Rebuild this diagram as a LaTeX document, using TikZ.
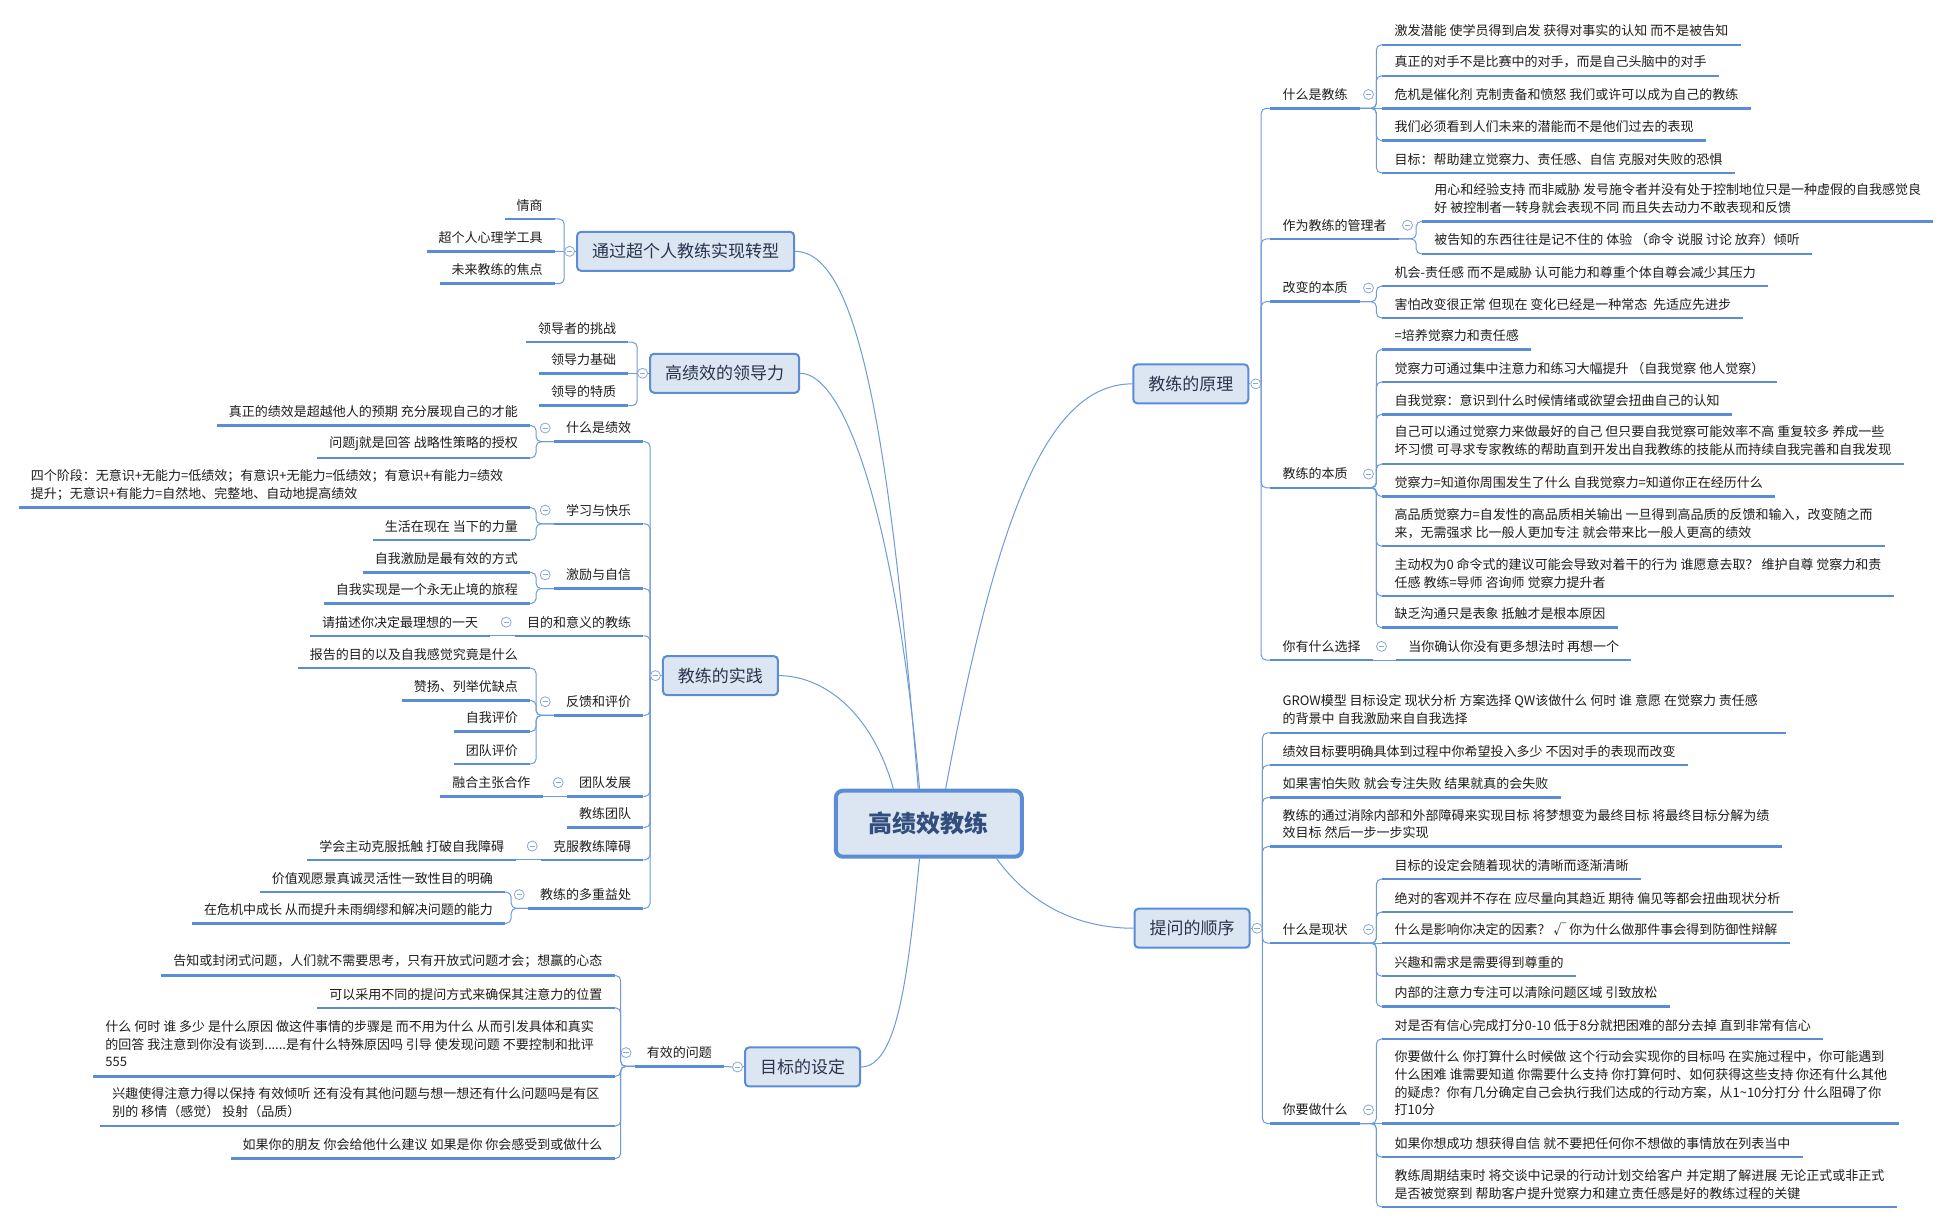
\documentclass[tikz,border=0pt]{standalone}
\usepackage{fontspec}
\newfontfamily\cjk{Noto Sans CJK SC}
\pgfdeclarelayer{bg}
\pgfsetlayers{bg,main}
\definecolor{ulc}{RGB}{91,140,214}
\definecolor{bord}{RGB}{91,140,214}
\definecolor{boxfill}{RGB}{220,230,242}
\definecolor{connc}{RGB}{110,155,218}
\definecolor{markc}{RGB}{140,168,214}
\definecolor{txt}{RGB}{30,30,30}
\definecolor{toptxt}{RGB}{40,52,78}
\definecolor{ctxt}{RGB}{50,78,125}
\tikzset{
  base/.style={font=\cjk\fontsize{13}{17.8}\selectfont, text=txt, inner xsep=12pt, inner ysep=7.5pt},
  rl/.style={base, anchor=south west, align=left},
  ll/.style={base, anchor=south east, align=right},
  lla/.style={base, anchor=south east, align=left},
  wr/.style={base, anchor=south west, inner ysep=3.9pt},
  wl/.style={base, anchor=south east, inner ysep=3.9pt},
  topic/.style={draw=bord, fill=boxfill, line width=2pt, rounded corners=4pt, inner xsep=15pt, inner ysep=0pt, minimum height=39pt, font=\cjk\fontsize{17}{20}\selectfont, text=toptxt},
  topicR/.style={topic, anchor=west},
  topicL/.style={topic, anchor=east},
  central/.style={draw=bord, fill=boxfill, line width=4pt, rounded corners=7pt, minimum width=186pt, minimum height=66pt, font=\cjk\bfseries\fontsize{24}{28}\selectfont, text=ctxt},
  ul/.style={line width=2.5pt, draw=ulc},
  conn/.style={line width=1pt, draw=connc, rounded corners=5pt},
  mconn/.style={line width=1pt, draw=connc},
  mk/.style={circle, draw=markc, fill=white, line width=0.8pt, minimum size=10pt, inner sep=0pt,
    path picture={\draw[markc, line width=0.9pt] ([xshift=-2.6pt]path picture bounding box.center) -- ([xshift=2.6pt]path picture bounding box.center);}},
}
\newcommand\wbox[2]{\makebox[#1][l]{\begin{tabular}{@{}l@{}}#2\end{tabular}}}
\newcommand\brR[2]{\draw[conn] (#1.south east) -| ([xshift=-6pt]#2.south west) -- (#2.south west);}
\newcommand\brL[2]{\draw[conn] (#1.south west) -| ([xshift=6pt]#2.south east) -- (#2.south east);}
\newcommand\stR[2]{\draw[conn] (#1.south east) -- (#2.south west);}
\newcommand\stL[2]{\draw[conn] (#1.south west) -- (#2.south east);}
\begin{document}
\begin{tikzpicture}[x=1.2443pt, y=-1.2443pt]
\useasboundingbox (0,0) rectangle (1568,984);
\begin{pgfonlayer}{bg}
\fill[white] (0,0) rectangle (1568,984);
\end{pgfonlayer}

% central
\node[central] (C) at (746.5,662) {高绩效教练};

% level 1
\node[topicR] (R1) at (910,308.5) {教练的原理};
\node[topicR] (R2) at (911,746) {提问的顺序};
\node[topicL] (L1) at (639,202) {通过超个人教练实现转型};
\node[topicL] (L2) at (643,300) {高绩效的领导力};
\node[topicL] (L3) at (626,543) {教练的实践};
\node[topicL] (L4) at (692,857.5) {目标的设定};

% right: 教练的原理
\node[rl] (A1) at (1021,87) {什么是教练};
\node[rl] (A2) at (1021,192) {作为教练的管理者};
\node[rl] (A3) at (1021,242.5) {改变的本质};
\node[rl] (A4) at (1021,392) {教练的本质};
\node[rl] (A5) at (1021,530.5) {你有什么选择};

\node[rl] (a11) at (1111,36) {激发潜能 使学员得到启发 获得对事实的认知 而不是被告知};
\node[rl] (a12) at (1111,61) {真正的对手不是比赛中的对手，而是自己头脑中的对手};
\node[rl] (a13) at (1111,87) {危机是催化剂 克制责备和愤怒 我们或许可以成为自己的教练};
\node[rl] (a14) at (1111,113) {我们必须看到人们未来的潜能而不是他们过去的表现};
\node[rl] (a15) at (1111,139) {目标：帮助建立觉察力、责任感、自信 克服对失败的恐惧};
\node[rl] (a21) at (1143,178) {用心和经验支持 而非威胁 发号施令者并没有处于控制地位只是一种虚假的自我感觉良\\好 被控制者一转身就会表现不同 而且失去动力不敢表现和反馈};
\node[rl] (a22) at (1143,204) {被告知的东西往往是记不住的 体验 （命令 说服 讨论 放弃）倾听};
\node[rl] (a31) at (1111,230) {机会-责任感 而不是威胁 认可能力和尊重个体自尊会减少其压力};
\node[rl] (a32) at (1111,255.5) {害怕改变很正常 但现在 变化已经是一种常态\ \ 先适应先进步};
\node[rl] (a41) at (1111,281) {=培养觉察力和责任感};
\node[rl] (a42) at (1111,307) {觉察力可通过集中注意力和练习大幅提升 （自我觉察 他人觉察）};
\node[rl] (a43) at (1111,333) {自我觉察：意识到什么时候情绪或欲望会扭曲自己的认知};
\node[wr] (a44) at (1111,373) {\wbox{497pt}{自己可以通过觉察力来做最好的自己 但只要自我觉察可能效率不高 重复较多 养成一些\\坏习惯 可寻求专家教练的帮助直到开发出自我教练的技能从而持续自我完善和自我发现}};
\node[rl] (a45) at (1111,399) {觉察力=知道你周围发生了什么 自我觉察力=知道你正在经历什么};
\node[rl] (a46) at (1111,439) {高品质觉察力=自发性的高品质相关输出 一旦得到高品质的反馈和输入，改变随之而\\来，无需强求 比一般人更加专注 就会带来比一般人更高的绩效};
\node[rl] (a47) at (1111,479) {主动权为0 命令式的建议可能会导致对着干的行为 谁愿意去取？ 维护自尊 觉察力和责\\任感 教练=导师 咨询师 觉察力提升者};
\node[rl] (a48) at (1111,504.5) {缺乏沟通只是表象 抵触才是根本原因};
\node[rl] (a51) at (1122,530.5) {当你确认你没有更多想法时 再想一个};

% right: 提问的顺序
\node[wr] (B1) at (1021,589) {\wbox{491pt}{GROW模型 目标设定 现状分析 方案选择 QW该做什么 何时 谁 意愿 在觉察力 责任感\\的背景中 自我激励来自自我选择}};
\node[rl] (B2) at (1021,615) {绩效目标要明确具体到过程中你希望投入多少 不因对手的表现而改变};
\node[rl] (B3) at (1021,641) {如果害怕失败 就会专注失败 结果就真的会失败};
\node[rl] (B4) at (1021,680.5) {教练的通过消除内部和外部障碍来实现目标 将梦想变为最终目标 将最终目标分解为绩\\效目标 然后一步一步实现};
\node[rl] (B5) at (1021,758) {什么是现状};
\node[rl] (B6) at (1021,903) {你要做什么};

\node[rl] (b51) at (1111,706.5) {目标的设定会随着现状的清晰而逐渐清晰};
\node[rl] (b52) at (1111,733) {绝对的客观并不存在 应尽量向其趋近 期待 偏见等都会扭曲现状分析};
\node[rl] (b53) at (1111,758) {什么是影响你决定的因素？ √ 你为什么做那件事会得到防御性辩解};
\node[rl] (b54) at (1111,784.5) {兴趣和需求是需要得到尊重的};
\node[rl] (b55) at (1111,809) {内部的注意力专注可以清除问题区域 引致放松};
\node[rl] (b61) at (1111,835) {对是否有信心完成打分0-10 低于8分就把困难的部分去掉 直到非常有信心};
\node[rl] (b62) at (1111,903) {你要做什么 你打算什么时候做 这个行动会实现你的目标吗 在实施过程中，你可能遇到\\什么困难 谁需要知道 你需要什么支持 你打算何时、如何获得这些支持 你还有什么其他\\的疑虑？你有几分确定自己会执行我们达成的行动方案，从1\textasciitilde10分打分 什么阻碍了你\\打10分};
\node[rl] (b63) at (1111,930) {如果你想成功 想获得自信 就不要把任何你不想做的事情放在列表当中};
\node[rl] (b64) at (1111,970) {教练周期结束时 将交谈中记录的行动计划交给客户 并定期了解进展 无论正式或非正式\\是否被觉察到 帮助客户提升觉察力和建立责任感是好的教练过程的关键};

% left: 通过超个人教练实现转型
\node[ll] (c1) at (446,176) {情商};
\node[ll] (c2) at (446,202) {超个人心理学工具};
\node[ll] (c3) at (446,228) {未来教练的焦点};
% left: 高绩效的领导力
\node[ll] (d1) at (505,275) {领导者的挑战};
\node[ll] (d2) at (505,300) {领导力基础};
\node[ll] (d3) at (505,326) {领导的特质};

% left: 教练的实践
\node[ll] (E1) at (517,355) {什么是绩效};
\node[ll] (E2) at (517,421) {学习与快乐};
\node[ll] (E3) at (517,473) {激励与自信};
\node[ll] (E4) at (517,511) {目的和意义的教练};
\node[ll] (E5) at (517,575) {反馈和评价};
\node[ll] (E6) at (517,640) {团队发展};
\node[ll] (E7) at (517,665) {教练团队};
\node[ll] (E8) at (517,691) {克服教练障碍};
\node[ll] (E9) at (517,730) {教练的多重益处};

\node[ll] (e11) at (426,342) {真正的绩效是超越他人的预期 充分展现自己的才能};
\node[ll] (e12) at (426,368) {问题j就是回答 战略性策略的授权};
\node[wl] (e21) at (426,408) {\wbox{487pt}{四个阶段：无意识+无能力=低绩效；有意识+无能力=低绩效；有意识+有能力=绩效\\提升；无意识+有能力=自然地、完整地、自动地提高绩效}};
\node[ll] (e22) at (426,434) {生活在现在 当下的力量};
\node[ll] (e31) at (426,460) {自我激励是最有效的方式};
\node[ll] (e32) at (426,485) {自我实现是一个永无止境的旅程};
\node[ll] (e41) at (394,511) {请描述你决定最理想的一天};
\node[ll] (e51) at (426,537) {报告的目的以及自我感觉究竟是什么};
\node[ll] (e52) at (426,563) {赞扬、列举优缺点};
\node[ll] (e53) at (426,588) {自我评价};
\node[ll] (e54) at (426,614) {团队评价};
\node[ll] (e61) at (436,640) {融合主张合作};
\node[ll] (e81) at (415,691) {学会主动克服抵触 打破自我障碍};
\node[ll] (e91) at (406,717) {价值观愿景真诚灵活性一致性目的明确};
\node[ll] (e92) at (406,742) {在危机中成长 从而提升未雨绸缪和解决问题的能力};

% left: 目标的设定
\node[ll] (F1) at (582,857) {有效的问题};
\node[ll] (f1) at (494,784) {告知或封闭式问题，人们就不需要思考，只有开放式问题才会；想赢的心态};
\node[ll] (f2) at (494,810) {可以采用不同的提问方式来确保其注意力的位置};
\node[wl] (f3) at (494,865) {\wbox{497pt}{什么 何时 谁 多少 是什么原因 做这件事情的步骤是 而不用为什么 从而引发具体和真实\\的回答 我注意到你没有谈到......是有什么特殊原因吗 引导 使发现问题 不要控制和批评\\555}};
\node[wl] (f4) at (494,905) {\wbox{490pt}{兴趣使得注意力得以保持 有效倾听 还有没有其他问题与想一想还有什么问题吗是有区\\别的 移情（感觉） 投射（品质）}};
\node[ll] (f5) at (494,931) {如果你的朋友 你会给他什么建议 如果是你 你会感受到或做什么};

% markers
\node[mk] (mR1) at ([xshift=6.5pt]R1.east) {};
\node[mk] (mR2) at ([xshift=6.5pt]R2.east) {};
\node[mk] (mL1) at ([xshift=-6.5pt]L1.west) {};
\node[mk] (mL2) at ([xshift=-6.5pt]L2.west) {};
\node[mk] (mL3) at ([xshift=-6.5pt]L3.west) {};
\node[mk] (mL4) at ([xshift=-6.5pt]L4.west) {};
\foreach \n in {A1,A2,A3,A4,A5,B5,B6}
  \node[mk] (m\n) at ([xshift=8.7pt,yshift=13.7pt]\n.south east) {};
\foreach \n in {E1,E2,E3,E4,E5,E6,E8,E9,F1}
  \node[mk] (m\n) at ([xshift=-8.7pt,yshift=13.7pt]\n.south west) {};

\begin{pgfonlayer}{bg}
% underlines
\foreach \n in {A1,A2,A3,A4,A5,a11,a12,a13,a14,a15,a21,a22,a31,a32,a41,a42,a43,a44,a45,a46,a47,a48,a51,
  B1,B2,B3,B4,B5,B6,b51,b52,b53,b54,b55,b61,b62,b63,b64,
  c1,c2,c3,d1,d2,d3,E1,E2,E3,E4,E5,E6,E7,E8,E9,e11,e12,e21,e22,e31,e32,e41,e51,e52,e53,e54,e61,e81,e91,e92,
  F1,f1,f2,f3,f4,f5}
  \draw[ul] (\n.south west) -- (\n.south east);

% central to main topics
\draw[mconn] ([xshift=16.8pt]C.north) .. controls (800,420) and (840,308.5) .. (R1.west);
\draw[mconn] ([xshift=67.8pt]C.south) .. controls (830,730) and (870,746) .. (R2.west);
\draw[mconn] ([xshift=-9.3pt]C.south) .. controls (730,780) and (722,857.5) .. (L4.east);
\draw[mconn] ([xshift=-35.5pt]C.north) .. controls (700,570) and (660,543) .. (L3.east);
\draw[mconn] ([xshift=-9.3pt]C.north) .. controls (720,420) and (680,300) .. (L2.east);
\draw[mconn] ([xshift=-10.6pt]C.north) .. controls (715,350) and (690,202) .. (L1.east);

% topic to marker
\draw[mconn] (R1.east) -- (mR1.west);
\draw[mconn] (R2.east) -- (mR2.west);
\draw[mconn] (L1.west) -- (mL1.east);
\draw[mconn] (L2.west) -- (mL2.east);
\draw[mconn] (L3.west) -- (mL3.east);
\draw[mconn] (L4.west) -- (mL4.east);

% level 1 -> level 2
\foreach \n in {A1,A2,A3,A4,A5} \draw[conn] (mR1.east) |- (\n.south west);
\foreach \n in {B1,B2,B3,B4,B5,B6} \draw[conn] (mR2.east) |- (\n.south west);
\draw[conn] (mL1.west) |- (c1.south east);
\draw[conn] (mL1.west) -- (c2.south east);
\draw[conn] (mL1.west) |- (c3.south east);
\draw[conn] (mL2.west) |- (d1.south east);
\draw[conn] (mL2.west) -- (d2.south east);
\draw[conn] (mL2.west) |- (d3.south east);
\foreach \n in {E1,E2,E3,E4,E5,E6,E7,E8,E9} \draw[conn] (mL3.west) |- (\n.south east);
\draw[conn] (mL4.west) -- (F1.south east);

% level 2 -> leaves (right)
\brR{A1}{a11} \brR{A1}{a12} \stR{A1}{a13} \brR{A1}{a14} \brR{A1}{a15}
\brR{A2}{a21} \brR{A2}{a22}
\brR{A3}{a31} \brR{A3}{a32}
\brR{A4}{a41} \brR{A4}{a42} \brR{A4}{a43} \brR{A4}{a44} \brR{A4}{a45} \brR{A4}{a46} \brR{A4}{a47} \brR{A4}{a48}
\stR{A5}{a51}
\brR{B5}{b51} \brR{B5}{b52} \stR{B5}{b53} \brR{B5}{b54} \brR{B5}{b55}
\brR{B6}{b61} \stR{B6}{b62} \brR{B6}{b63} \brR{B6}{b64}

% level 2 -> leaves (left)
\brL{E1}{e11} \brL{E1}{e12}
\brL{E2}{e21} \brL{E2}{e22}
\brL{E3}{e31} \brL{E3}{e32}
\stL{E4}{e41}
\brL{E5}{e51} \brL{E5}{e52} \brL{E5}{e53} \brL{E5}{e54}
\stL{E6}{e61}
\stL{E8}{e81}
\brL{E9}{e91} \brL{E9}{e92}
\brL{F1}{f1} \brL{F1}{f2} \brL{F1}{f3} \brL{F1}{f4} \brL{F1}{f5}
\end{pgfonlayer}
\end{tikzpicture}
\end{document}
